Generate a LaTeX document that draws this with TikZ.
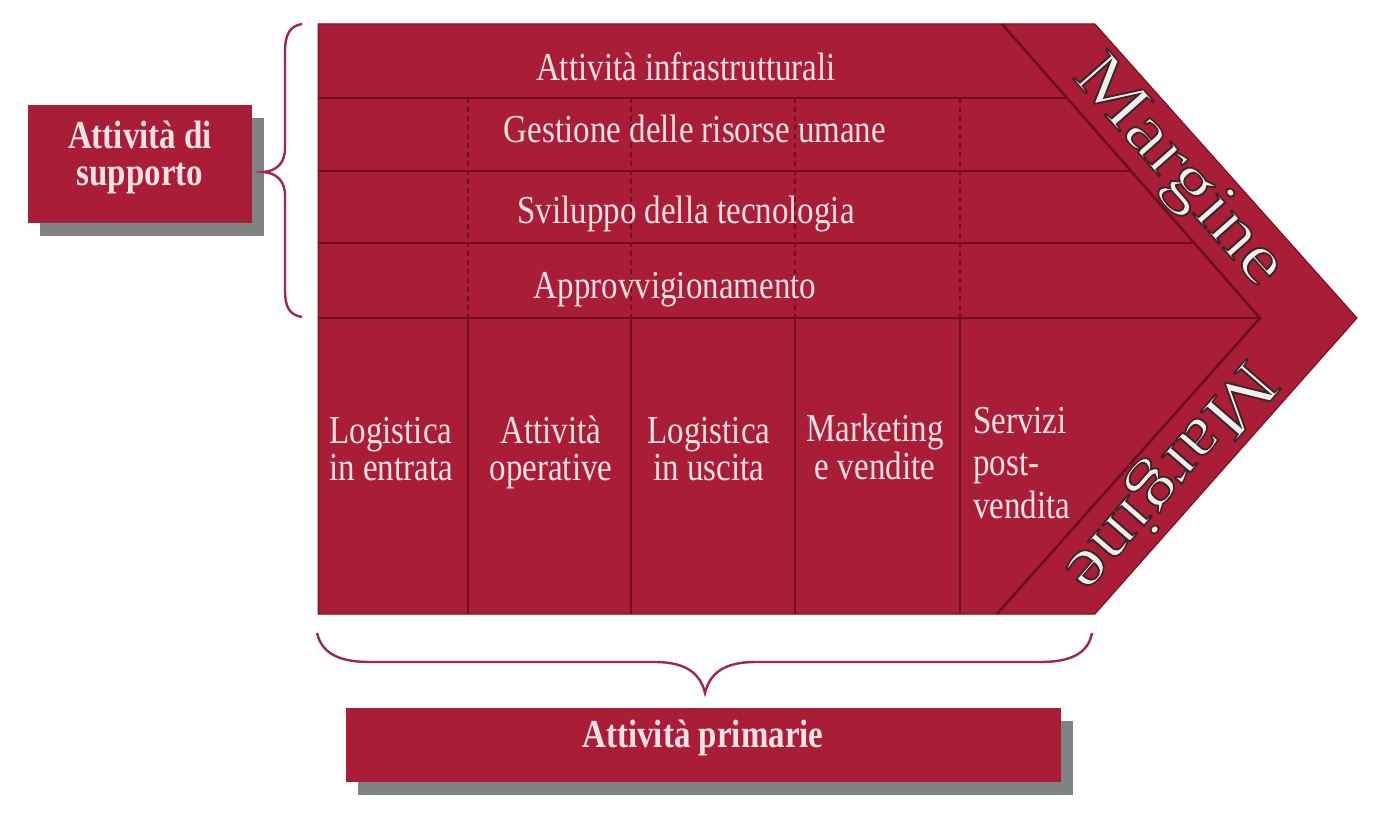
\documentclass[tikz,border=0pt]{standalone}
\usepackage{fontspec}
\setmainfont{Liberation Serif}
\usepackage{graphicx}
\usetikzlibrary{shadows}
\definecolor{vcred}{HTML}{AA1D36}
\definecolor{vcline}{HTML}{6E0F1E}
\definecolor{vctext}{HTML}{F8E2E5}
\definecolor{vcbrace}{HTML}{A02846}
\definecolor{vcshadow}{HTML}{808383}
\definecolor{vcsilver}{HTML}{EEEEEE}
\newcommand\tallt[1]{\scalebox{1}[1.2]{#1}}
\newcommand\outlinet[1]{\special{pdf:literal direct 0.23 0.14 0.15 RG 1.6 w 2 Tr}#1\special{pdf:literal direct 0 Tr}}
\newcommand\widet[1]{\scalebox{1.2}[1]{\outlinet{#1}}}
\begin{document}
\begin{tikzpicture}[x=1pt,y=-1pt,
  lbl/.style={text=vctext,font=\fontsize{33}{31}\selectfont,inner sep=0pt,anchor=base},
  boldlbl/.style={lbl,font=\fontsize{33}{31}\selectfont\bfseries},
  sbox/.style={boldlbl,fill=vcred,
    drop shadow={shadow xshift=12pt,shadow yshift=-13pt,fill=vcshadow,opacity=1}},
  rowline/.style={draw=vcline,line width=2.6pt},
  dashline/.style={draw=vcline,line width=2.4pt,dash pattern=on 5pt off 4pt},
  brace/.style={draw=vcbrace,line width=2.4pt},
  marg/.style={font=\fontsize{70}{70}\selectfont,inner sep=0pt,text=vcsilver}]
\useasboundingbox (0,0) rectangle (1375,816);
% main chevron
\fill[vcred,draw=vcline,line width=1pt] (318,24) -- (1095,24) -- (1357,318) -- (1095,614) -- (318,614) -- cycle;
% inner diagonals
\draw[rowline] (1002,24) -- (1260,318) -- (997,614);
% support rows
\draw[rowline] (318,98) -- (1067,98);
\draw[rowline] (318,171) -- (1131,171);
\draw[rowline] (318,243) -- (1194,243);
\draw[rowline] (318,318) -- (1260,318);
% dashed verticals in support area, solid in primary area
\foreach \x in {468,631,795,960} {
  \draw[dashline] (\x,98) -- (\x,318);
  \draw[rowline] (\x,318) -- (\x,614);
}
% support labels
\node[lbl] (infra) at (686,80) {\tallt{Attività infrastrutturali}};
\node[lbl] (hr) at (695,142) {\tallt{Gestione delle risorse umane}};
\node[lbl] (tech) at (686,223) {\tallt{Sviluppo della tecnologia}};
\node[lbl] (proc) at (675,298) {\tallt{Approvvigionamento}};
% primary labels
\node[lbl] (inb) at (391,443) {\tallt{\begin{tabular}[t]{@{}c@{}}Logistica\\in entrata\end{tabular}}};
\node[lbl] (ops) at (551,443) {\tallt{\begin{tabular}[t]{@{}c@{}}Attività\\operative\end{tabular}}};
\node[lbl] (outb) at (709,443) {\tallt{\begin{tabular}[t]{@{}c@{}}Logistica\\in uscita\end{tabular}}};
\node[lbl] (mkt) at (875,441) {\tallt{\begin{tabular}[t]{@{}c@{}}Marketing\\e vendite\end{tabular}}};
\node[lbl,anchor=base west] (serv) at (973,433) {\tallt{\begin{tabular}[t]{@{}l@{}}Servizi\\[4pt]post-\\[4pt]vendita\end{tabular}}};
% margin texts
\node[marg,rotate=-48.5] (m1) at (1177,173) {\widet{Margine}};
\node[marg,rotate=-131] (m2) at (1167,474) {\widet{Margine}};
% side boxes
\node[sbox,minimum width=224pt,text height=43pt,text depth=75pt] (sup) at (140,148)
  {\tallt{\begin{tabular}[t]{@{}c@{}}Attività di\\supporto\end{tabular}}};
\node[sbox,minimum width=715pt,text height=39pt,text depth=35pt] (prim) at (703,747)
  {\tallt{Attività primarie}};
% braces
\draw[brace] (302,24) .. controls (290,26) and (285,34) .. (285,52) -- (285,148)
  .. controls (285,164) and (276,171) .. (263,172)
  .. controls (276,173) and (285,180) .. (285,196) -- (285,290)
  .. controls (285,308) and (290,315) .. (302,317);
\draw[brace] (317,633) .. controls (322,654) and (340,662) .. (370,662) -- (655,662)
  .. controls (684,662) and (700,672) .. (705,693)
  .. controls (710,672) and (726,662) .. (755,662) -- (1040,662)
  .. controls (1070,662) and (1088,654) .. (1092,633);
\end{tikzpicture}
\end{document}
